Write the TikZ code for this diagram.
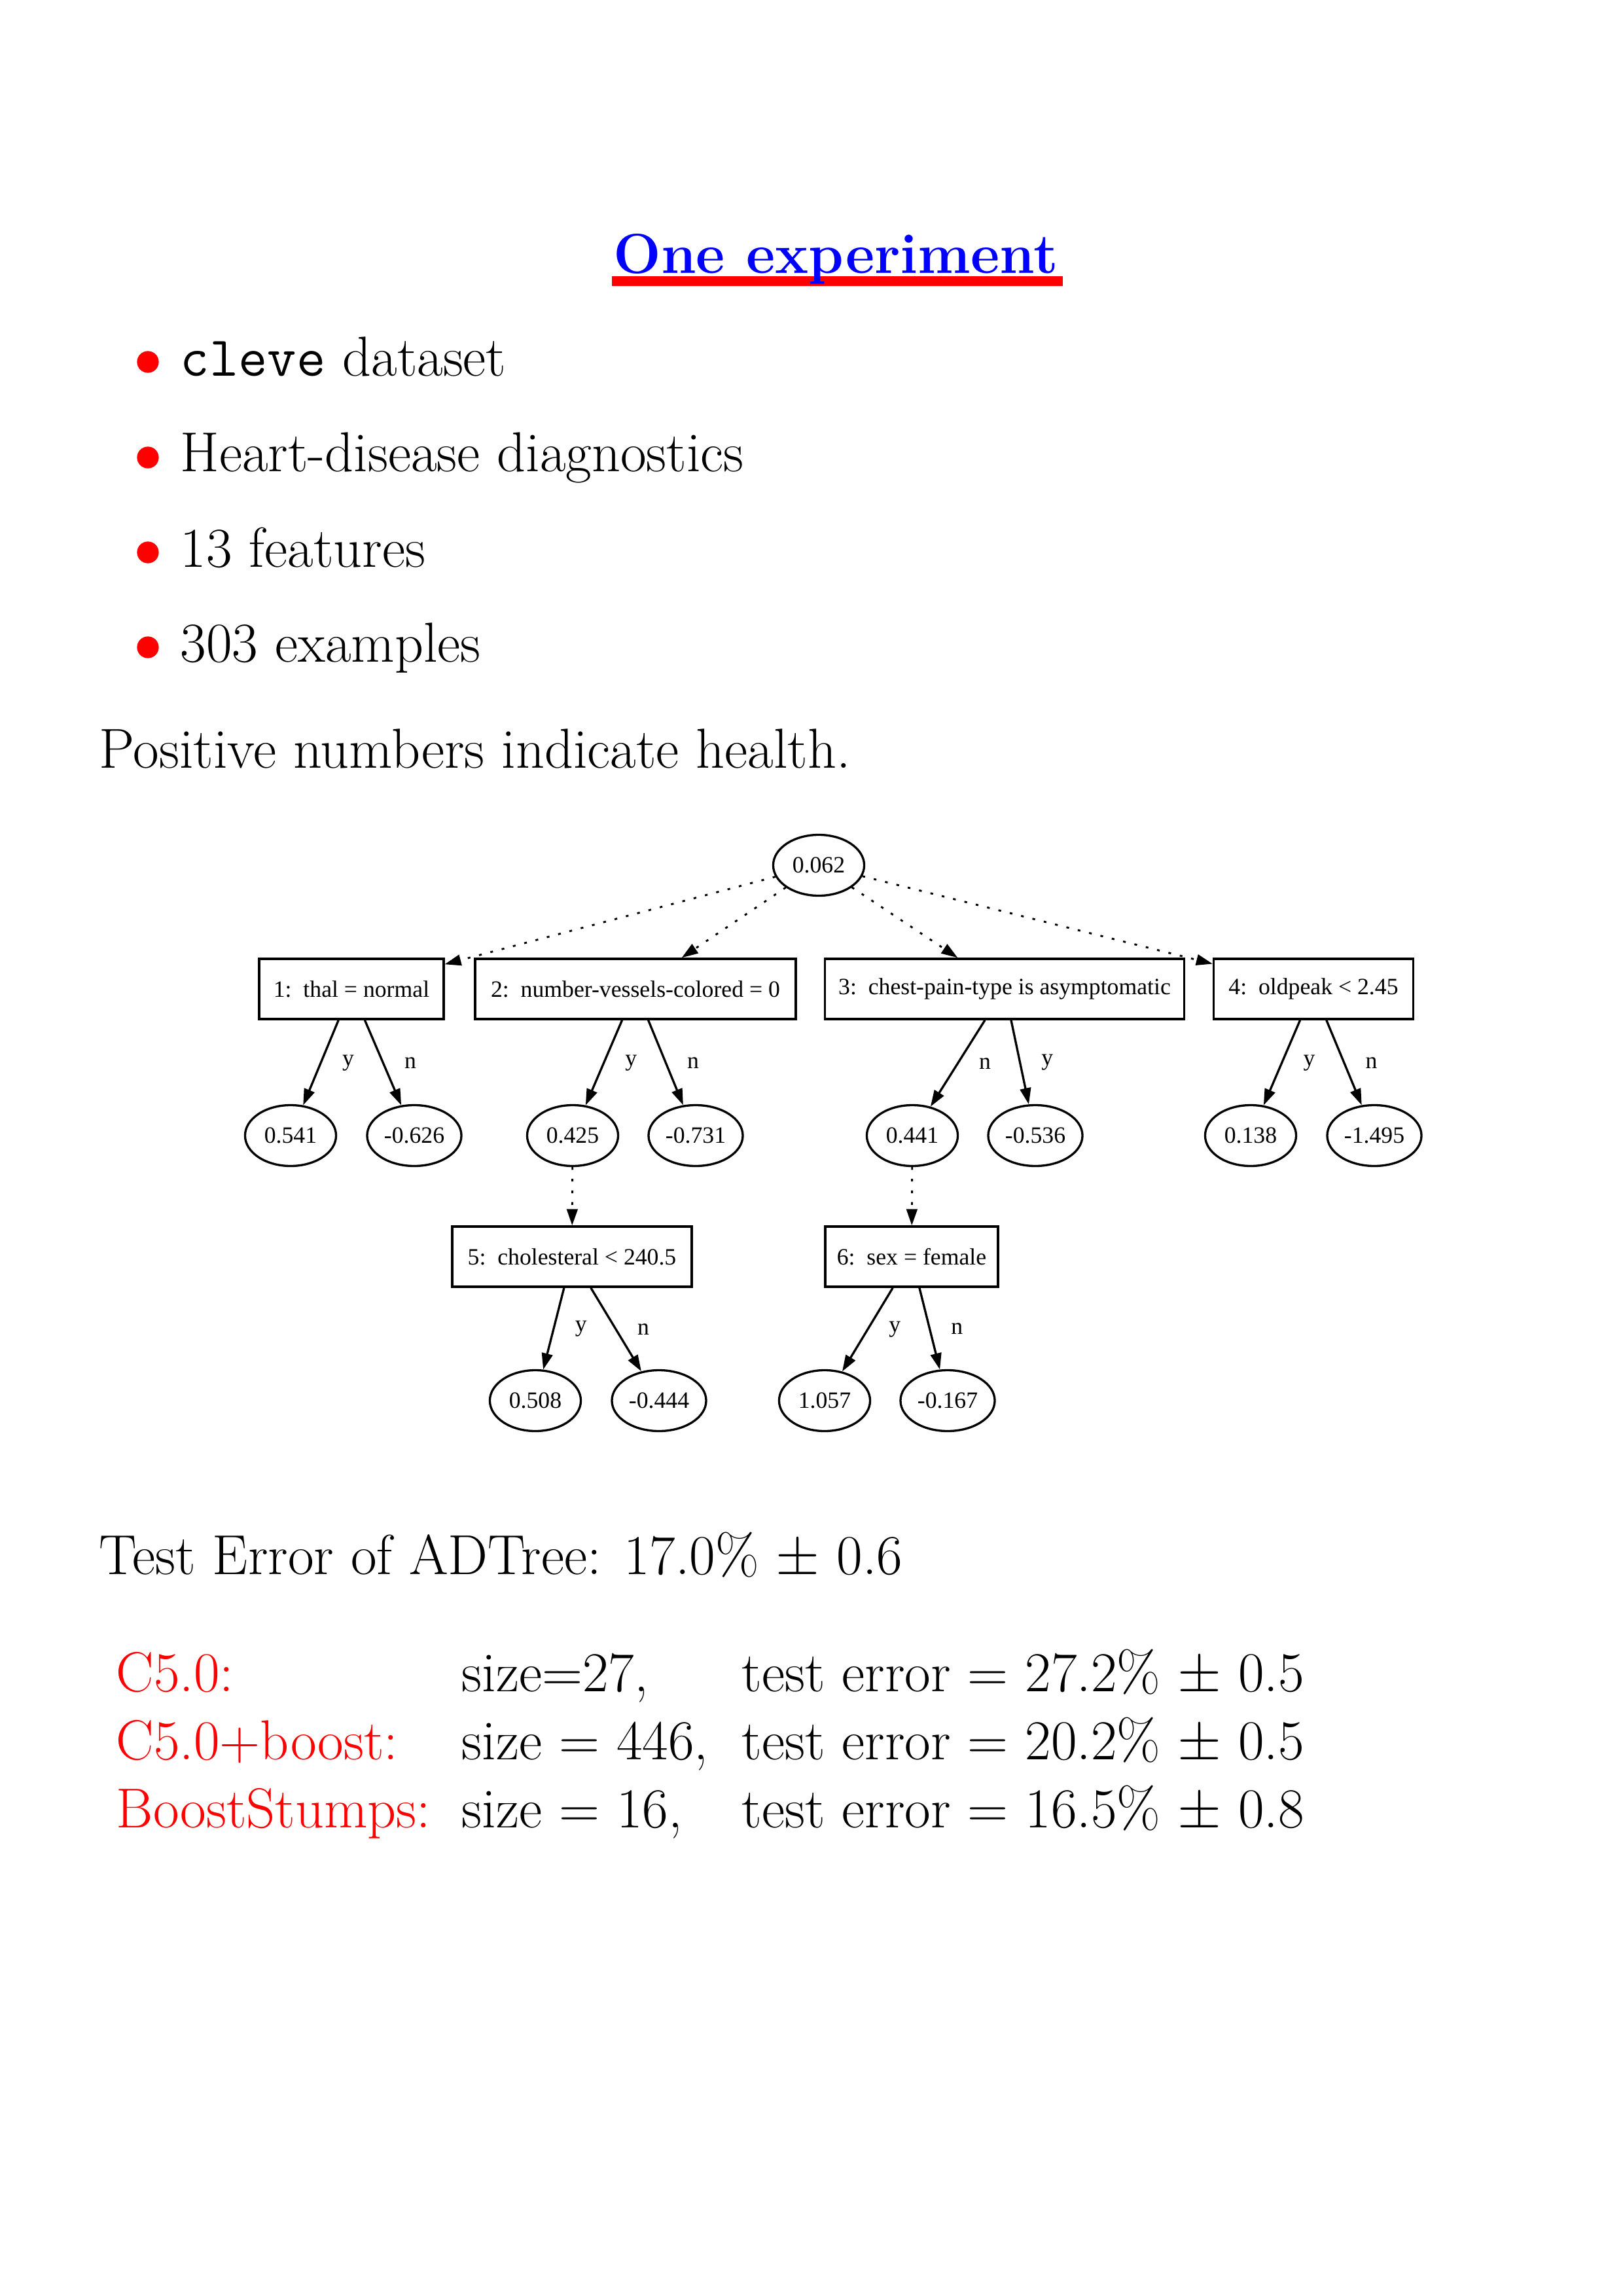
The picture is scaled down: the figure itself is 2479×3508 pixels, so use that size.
\documentclass[tikz,border=0pt]{standalone}
\usepackage{fontspec}
\newfontfamily\treefont{Liberation Serif}
\usetikzlibrary{shapes.geometric,arrows.meta,calc}
\pgfdeclarelayer{bg}
\pgfsetlayers{bg,main}

\begin{document}
\begin{tikzpicture}[x=0.24088pt, y=-0.24088pt,
  slide/.style={anchor=base west, inner sep=0pt, font=\fontsize{20.74}{25}\selectfont},
  heading/.style={anchor=base, inner sep=0pt, text=blue, font=\fontsize{20.74}{25}\selectfont\bfseries},
  method/.style={slide, text=red},
  cond/.style={draw, line width=0.8pt, rectangle, inner sep=0pt, minimum height=22.2pt,
               font=\treefont\fontsize{8.6}{10.4}\selectfont},
  leaf/.style={draw, line width=0.8pt, ellipse, inner sep=0pt, minimum width=33.5pt,
               minimum height=22.4pt, font=\treefont\fontsize{8.6}{10.4}\selectfont},
  wideleaf/.style={leaf, minimum width=34.7pt},
  yn/.style={midway, right=7.5pt, inner sep=0pt, font=\treefont\fontsize{8.6}{10.4}\selectfont},
  branch/.style={line width=0.8pt, -{Triangle[length=6pt,width=4pt]}},
  chain/.style={line width=0.7pt, dash pattern=on 1pt off 3.3pt,
                -{Triangle[length=6pt,width=4pt]}},
]
\useasboundingbox (0,0) rectangle (2479,3508);

% heading with its red bar
\node[heading] (title) at (1277,418) {One experiment};
\begin{pgfonlayer}{bg}
  \fill[white] (0,0) rectangle (2479,3508);
  \fill[red] ($(title.base west)+(-2,4)$) rectangle ($(title.base east)+(6,19)$);
\end{pgfonlayer}

% bullet list
\foreach \y in {553,699,844,989}
  \fill[red] (226,\y) circle (4pt);
\node[slide] (item1) at (275,575) {\texttt{cleve} dataset};
\node[slide] (item2) at (275,721) {Heart-disease diagnostics};
\node[slide] (item3) at (275,866) {13 features};
\node[slide] (item4) at (275,1011) {303 examples};

\node[slide] (note) at (151,1173) {Positive numbers indicate health.};

% alternating decision tree
\node[leaf] (root) at (1251,1322) {0.062};

\node[cond, minimum width=67.9pt] (c1) at (537,1511) {1:\ \ thal = normal};
\node[cond, minimum width=118pt]  (c2) at (971,1511) {2:\ \ number-vessels-colored = 0};
\node[cond, minimum width=132.2pt] (c3) at (1535,1511) {3:\ \ chest-pain-type is asymptomatic};
\node[cond, minimum width=73.5pt] (c4) at (2007,1511) {4:\ \ oldpeak < 2.45};

\node[leaf]     (p1) at (444,1735)  {0.541};
\node[wideleaf] (p2) at (633,1735)  {-0.626};
\node[leaf]     (p3) at (875,1735)  {0.425};
\node[wideleaf] (p4) at (1063,1735) {-0.731};
\node[leaf]     (p5) at (1394,1735) {0.441};
\node[wideleaf] (p6) at (1582,1735) {-0.536};
\node[leaf]     (p7) at (1911,1735) {0.138};
\node[wideleaf] (p8) at (2100,1735) {-1.495};

\node[cond, minimum width=88.2pt] (c5) at (874,1920)  {5:\ \ cholesteral < 240.5};
\node[cond, minimum width=63.6pt] (c6) at (1393,1920) {6:\ \ sex = female};

\node[leaf]     (p9)  at (818,2140)  {0.508};
\node[wideleaf] (p10) at (1007,2140) {-0.444};
\node[leaf]     (p11) at (1260,2140) {1.057};
\node[wideleaf] (p12) at (1448,2140) {-0.167};

\draw[chain] (root) -- (c1);
\draw[chain] (root) -- (c2);
\draw[chain] (root) -- (c3);
\draw[chain] (root) -- (c4);
\draw[chain] (p3) -- (c5);
\draw[chain] (p5) -- (c6);

\draw[branch] (c1) -- (p1) node[yn] {y};
\draw[branch] (c1) -- (p2) node[yn] {n};
\draw[branch] (c2) -- (p3) node[yn] {y};
\draw[branch] (c2) -- (p4) node[yn] {n};
\draw[branch] (c3) -- (p5) node[yn] {n};
\draw[branch] (c3) -- (p6) node[yn] {y};
\draw[branch] (c4) -- (p7) node[yn] {y};
\draw[branch] (c4) -- (p8) node[yn] {n};
\draw[branch] (c5) -- (p9) node[yn] {y};
\draw[branch] (c5) -- (p10) node[yn] {n};
\draw[branch] (c6) -- (p11) node[yn] {y};
\draw[branch] (c6) -- (p12) node[yn] {n};

% results
\node[slide] (adtree) at (151,2405) {Test Error of ADTree: 17.0\% $\pm$ 0.6};

\node[method] (m1) at (177,2584) {C5.0:};
\node[slide]  (s1) at (705,2584) {size=27,};
\node[slide]  (e1) at (1133,2584) {test error $=$ 27.2\% $\pm$ 0.5};

\node[method] (m2) at (177,2688) {C5.0+boost:};
\node[slide]  (s2) at (705,2688) {size $=$ 446,};
\node[slide]  (e2) at (1133,2688) {test error $=$ 20.2\% $\pm$ 0.5};

\node[method] (m3) at (177,2792) {BoostStumps:};
\node[slide]  (s3) at (705,2792) {size $=$ 16,};
\node[slide]  (e3) at (1133,2792) {test error $=$ 16.5\% $\pm$ 0.8};
\end{tikzpicture}
\end{document}
